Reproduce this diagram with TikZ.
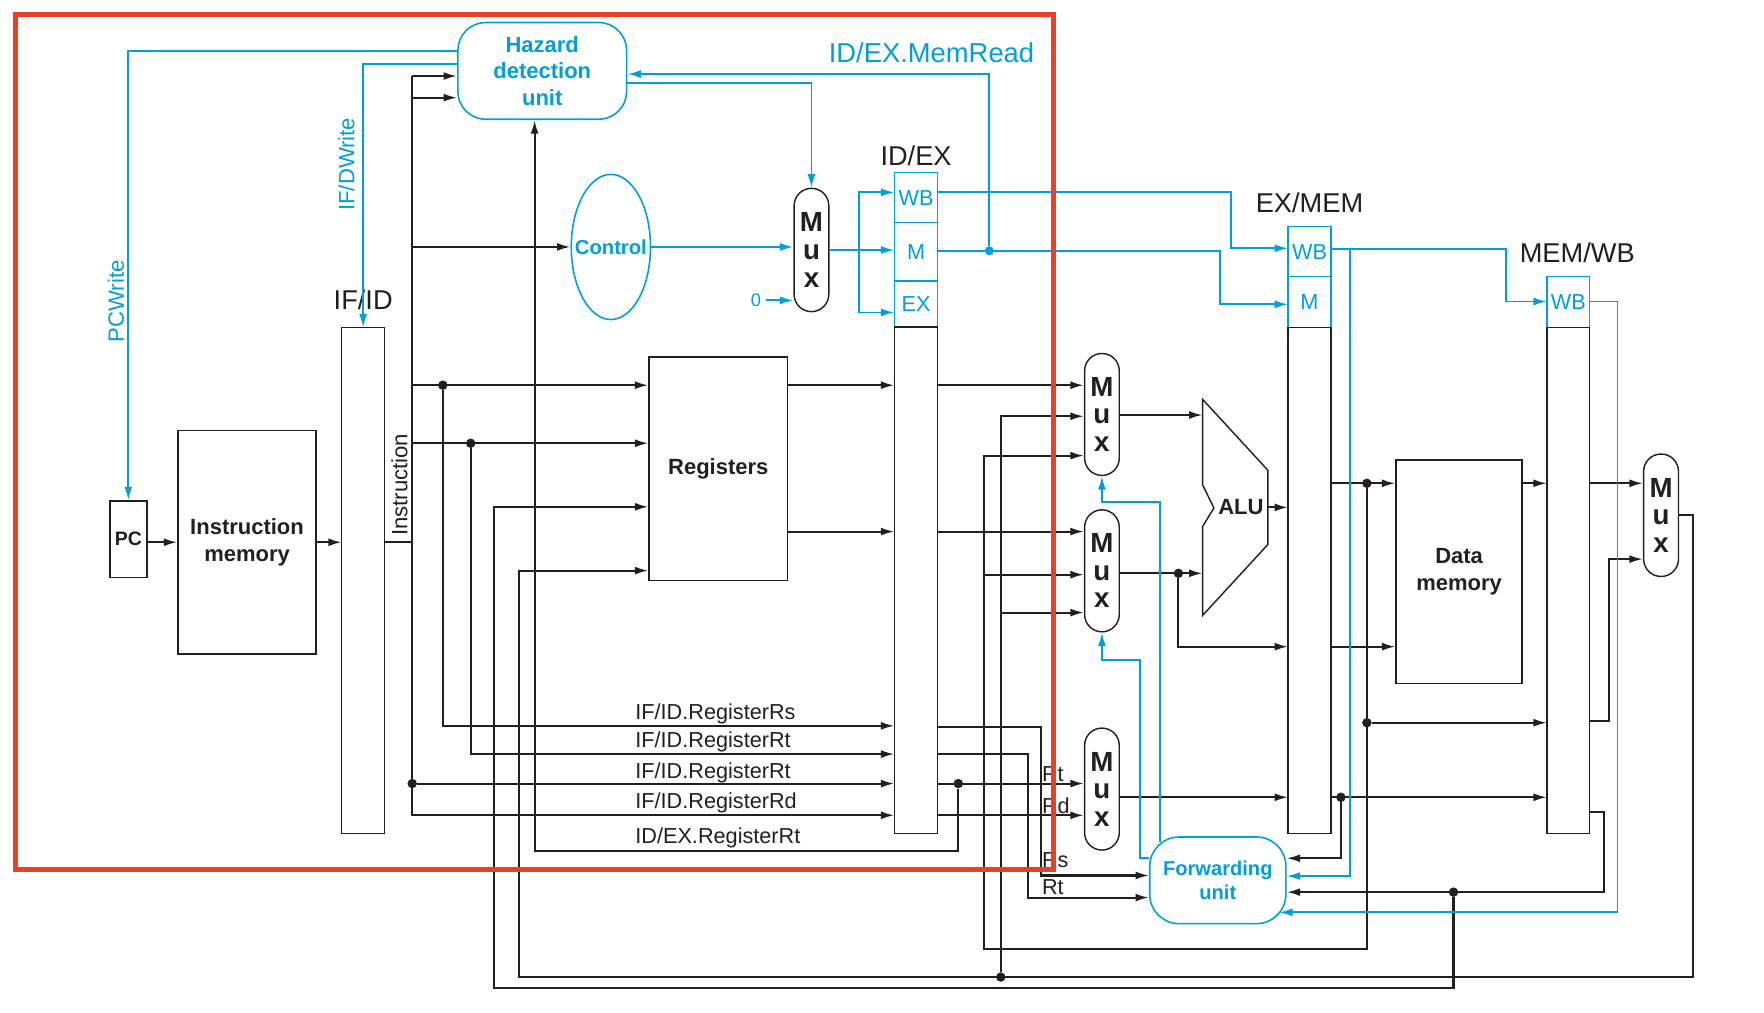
\documentclass[tikz,border=0pt]{standalone}
\usepackage{fontspec}
\setmainfont{Liberation Sans}
\usepackage{tikz}
\usetikzlibrary{shapes.geometric,arrows.meta}
\usetikzlibrary{positioning}

\definecolor{ctlblue}{RGB}{0,158,219}
\definecolor{wireblk}{RGB}{35,31,32}
\definecolor{hlred}{RGB}{233,64,38}

\newcommand{\lblfont}{\fontsize{13.7}{16}\selectfont}
\newcommand{\stgfont}{\fontsize{17.2}{20}\selectfont}
\newcommand{\boxfont}{\bfseries\fontsize{13.9}{16.7}\selectfont}
\newcommand{\muxfont}{\bfseries\fontsize{17.5}{17.4}\selectfont}

\tikzset{
	block/.style={rectangle, draw=wireblk, line width=0.9pt, text=wireblk, font=\boxfont, align=center, inner sep=0pt},
	pipereg/.style={rectangle, draw=wireblk, line width=0.9pt, outer sep=0pt, minimum height=11.25cm, inner sep=0pt},
	ctrlreg/.style={rectangle, draw=ctlblue, line width=0.9pt, outer sep=0pt, text=ctlblue, font=\lblfont, inner sep=0pt},
	muxbox/.style={rectangle, draw=wireblk, line width=0.9pt, rounded corners=0.385cm, minimum width=0.77cm, minimum height=2.71cm, text=wireblk, font=\muxfont, align=center, inner sep=0pt},
	unitbox/.style={rectangle, draw=ctlblue, line width=1pt, text=ctlblue, font=\boxfont, align=center, inner sep=0pt},
	wire/.style={draw=wireblk, line width=1.3pt},
	arr/.style={wire, -{Latex[length=8.5pt,width=5pt]}},
	cwire/.style={draw=ctlblue, line width=1.15pt},
	carr/.style={cwire, -{Latex[length=8.5pt,width=5pt]}},
	jdot/.style={circle, fill=wireblk, inner sep=0pt, minimum size=0.21cm},
	cdot/.style={circle, fill=ctlblue, inner sep=0pt, minimum size=0.2cm},
	lbl/.style={text=wireblk, font=\lblfont, inner sep=0pt},
	clbl/.style={text=ctlblue, font=\fontsize{14}{16}\selectfont, inner sep=0pt},
	stage/.style={text=wireblk, font=\stgfont, inner sep=0pt},
}

\begin{document}
\begin{tikzpicture}[x=0.025cm, y=-0.025cm]
	\useasboundingbox (0,0) rectangle (1568,899.6);

	\node[block, minimum width=0.825cm, minimum height=1.7cm, font=\bfseries\fontsize{12.3}{14}\selectfont] (pc) at (114.1,479.3) {PC};
	\node[block, minimum width=3.07cm, minimum height=4.97cm] (imem) at (219.6,482) {Instruction\\memory};
	\node[pipereg, minimum width=0.9525cm, minimum height=11.2375cm] (ifid) at (322.85,516) {};
	\node[stage, above=0.38cm of ifid] (ifidlbl) {IF/ID};

	\node[unitbox, minimum width=3.75cm, minimum height=2.15cm, rounded corners=0.62cm] (hazard) at (482,63) {Hazard\\detection\\unit};
	\node[ellipse, draw=ctlblue, line width=1pt, minimum width=1.76cm, minimum height=3.225cm, inner sep=0pt] (control) at (543,219.5) {};
	\node[text=ctlblue, font=\bfseries\fontsize{12.8}{15}\selectfont, inner sep=0pt] (controllbl) at (control.center) {Control};
	\node[block, minimum width=3.075cm, minimum height=4.9625cm] (regs) at (638.5,416.75) {Registers};
	\node[muxbox, minimum height=2.74cm] (idmux) at (721.3,222.2) {M\\u\\x};
	\node[text=ctlblue, font=\fontsize{11.5}{13}\selectfont, inner sep=3pt] (zero) at (672,267) {0};

	\node[ctrlreg, minimum width=0.9625cm, minimum height=1.1125cm] (idexwb) at (814.25,175.75) {WB};
	\node[ctrlreg, minimum width=0.9625cm, minimum height=1.295cm, below=0pt of idexwb] (idexm) {M};
	\node[ctrlreg, minimum width=0.9625cm, minimum height=1.025cm, below=0pt of idexm] (idexex) {EX};
	\node[pipereg, minimum width=0.9625cm, below=0pt of idexex] (idex) {};
	\node[stage, above=0.15cm of idexwb] (idexlbl) {ID/EX};

	\node[muxbox] (fmuxA) at (979.5,368.4) {M\\u\\x};
	\node[muxbox] (fmuxB) at (979.5,507.4) {M\\u\\x};
	\node[muxbox] (dstmux) at (979.5,701.4) {M\\u\\x};
	\draw[wireblk, line width=0.9pt] (1069,355) -- (1127,418) -- (1127,484) -- (1069,547) -- (1069,468) -- (1079,451.5) -- (1069,431) -- cycle;
	\node[text=wireblk, font=\boxfont, inner sep=0pt] (alu) at (1103,451) {ALU};
	\coordinate (aluA) at (1069,368.9);
	\coordinate (aluB) at (1069,509.6);
	\coordinate (aluOut) at (1127,451);
	\node[unitbox, minimum width=3.025cm, minimum height=1.925cm, rounded corners=0.65cm, font=\bfseries\fontsize{12.7}{14.7}\selectfont] (fwd) at (1082.5,782.5) {Forwarding\\unit};

	\node[ctrlreg, minimum width=0.95cm, minimum height=1.1125cm] (exmemwb) at (1164,223.75) {WB};
	\node[ctrlreg, minimum width=0.95cm, minimum height=1.125cm, below=0pt of exmemwb] (exmemm) {M};
	\node[pipereg, minimum width=0.95cm, below=0pt of exmemm] (exmem) {};
	\node[stage, above=0.3cm of exmemwb] (exmemlbl) {EX/MEM};

	\node[block, minimum width=2.8cm, minimum height=4.96cm] (dmem) at (1297,508.2) {Data\\[0.7pt]memory};

	\node[ctrlreg, minimum width=0.95cm, minimum height=1.125cm] (memwbwb) at (1394,268.5) {WB};
	\node[pipereg, minimum width=0.95cm, below=0pt of memwbwb] (memwb) {};
	\node[stage, above=0.31cm of memwbwb, xshift=0.2cm] (memwblbl) {MEM/WB};
	\node[muxbox, minimum width=0.775cm, minimum height=2.72cm] (wbmux) at (1476.5,458) {M\\u\\x};

	\coordinate (busTop) at (366.4,67.6);
	\coordinate (busBot) at (366.4,724.7);
	\coordinate (tapHz) at (366.4,86.8);
	\draw[arr] (pc.east |- imem.west) -- (imem.west);
	\draw[arr] (imem.east) -- (imem.east -| ifid.west);
	\draw[wire] (ifid.east |- imem.east) -- (busTop |- imem.east);
	\node[lbl, rotate=90, font=\fontsize{14}{16}\selectfont] (instrlbl) at (355,431) {Instruction};
	\draw[arr] (busTop) -- (busTop -| hazard.west);
	\draw[arr] (tapHz) -- (tapHz -| hazard.west);
	\draw[arr] (busTop) -- (busBot) -- (busBot -| idex.west);
	\draw[arr] (busTop |- control.west) -- (control.west);

	\node[jdot] (dRs) at (393.6,342.4) {};
	\node[jdot] (dRt) at (418.4,394) {};
	\node[jdot] (dRt2) at (366.4,696.5) {};
	\draw[arr] (busTop |- dRs) -- (dRs -| regs.west);
	\draw[arr] (busTop |- dRt) -- (dRt -| regs.west);
	\draw[arr] (dRs) |- (idex.west |- 0,645.2);
	\draw[arr] (dRt) |- (idex.west |- 0,670.3);
	\draw[arr] (dRt2) -- (dRt2 -| idex.west);
	\node[lbl, anchor=base west] (lRs) at (564.5,639.2) {IF/ID.RegisterRs};
	\node[lbl, anchor=base west] (lRt) at (564.5,664.7) {IF/ID.RegisterRt};
	\node[lbl, anchor=base west] (lRt2) at (564.5,692.1) {IF/ID.RegisterRt};
	\node[lbl, anchor=base west] (lRd) at (564.5,718.3) {IF/ID.RegisterRd};
	\node[lbl, anchor=base west] (lExRt) at (564.5,749.9) {ID/EX.RegisterRt};

	\coordinate (rd2) at (regs.east |- 0,472.5);
	\draw[arr] (regs.east |- dRs) -- (dRs -| idex.west);
	\draw[arr] (rd2) -- (rd2 -| idex.west);
	\draw[arr] (idex.east |- dRs) -- (dRs -| fmuxA.west);
	\draw[arr] (idex.east |- rd2) -- (rd2 -| fmuxB.west);
	\draw[arr] (idex.east |- 0,646.2) -| (925.3,778.2) -- (fwd.west |- 0,778.2);
	\draw[arr] (idex.east |- 0,670.3) -| (913.4,797.8) -- (fwd.west |- 0,797.8);
	\node[jdot] (dEx) at (851.8,696.5) {};
	\draw[arr] (idex.east |- dEx) -- (dEx -| dstmux.west);
	\draw[arr] (idex.east |- 0,724.7) -- (dstmux.west |- 0,724.7);
	\node[lbl, anchor=west] (lRtM) at (926,688) {Rt};
	\node[lbl, anchor=west] (lRdM) at (926,716) {Rd};
	\node[lbl, anchor=west] (lRsF) at (926,765) {Rs};
	\node[lbl, anchor=west] (lRtF) at (926,788.5) {Rt};
	\coordinate (hzIn) at ([xshift=-0.17cm]hazard.south);
	\draw[arr] (dEx) -- (dEx |- 0,756.3) -| (hzIn);

	\node[jdot] (dFw) at (1292,793) {};
	\coordinate (wrReg) at (regs.west |- 0,450.5);
	\coordinate (wrData) at (regs.west |- 0,507.2);
	\draw[arr] (dFw) -- (1292,878) -| (438.8,450.5) -- (wrReg);
	\draw[arr] (wbmux.east) -| (1505,868.5) -| (461.6,507.2) -- (wrData);
	\node[jdot] (dWB) at (889.6,868.5) {};
	\draw[arr] (dWB) |- (fmuxA.west |- 0,370);
	\draw[arr] (dWB |- 0,544.5) -- (fmuxB.west |- 0,544.5);

	\node[jdot] (dAlu) at (1215,429.6) {};
	\node[jdot] (dAlu2) at (1215,642.4) {};
	\coordinate (tapB) at (874.3,510.8);
	\draw[arr] (exmem.east |- dAlu) -- (dAlu -| dmem.west);
	\draw[arr] (dAlu) -- (1215,843.6) -| (874.3,405) -- (fmuxA.west |- 0,405);
	\draw[arr] (tapB) -- (tapB -| fmuxB.west);
	\draw[arr] (dAlu2) -- (dAlu2 -| memwb.west);

	\node[jdot] (dB) at (1047.5,509.6) {};
	\draw[arr] (fmuxA.east |- aluA) -- (aluA);
	\draw[arr] (fmuxB.east |- dB) -- (aluB);
	\draw[arr] (dB) |- (exmem.west |- 0,574.8);
	\draw[arr] (aluOut) -- (aluOut -| exmem.west);
	\draw[arr] (exmem.east |- 0,574.8) -- (dmem.west |- 0,574.8);

	\node[jdot] (dDst) at (1191.9,708.7) {};
	\draw[arr] (dstmux.east |- dDst) -- (dDst -| exmem.west);
	\draw[arr] (exmem.east |- dDst) -- (dDst -| memwb.west);
	\draw[arr] (dDst) |- (fwd.east |- 0,762.9);
	\draw[arr] (memwb.east |- 0,721.5) -| (1425.8,793) -- (fwd.east |- 0,793);
	\draw[arr] (memwb.east |- 0,641) -| (1430,497) -- (wbmux.west |- 0,497);
	\draw[arr] (dmem.east |- dAlu) -- (dAlu -| memwb.west);
	\draw[arr] (memwb.east |- dAlu) -- (dAlu -| wbmux.west);

	\draw[carr] (hazard.west |- 0,45) -| (pc.north);
	\draw[carr] (hazard.west |- 0,56.9) -| (ifid.north);
	\node[clbl, rotate=90] (pcwlbl) at (103,268) {PCWrite};
	\node[clbl, rotate=90] (ifdwlbl) at (308,146) {IF/DWrite};
	\node[cdot] (dMR) at (879.4,222.9) {};
	\draw[carr] (dMR) |- (hazard.east |- 0,65.8);
	\node[clbl, font=\fontsize{17.3}{20}\selectfont] (memrdlbl) at (828,46.5) {ID/EX.MemRead};
	\draw[carr] (hazard.east |- 0,73.5) -| (idmux.north);
	\draw[carr] (control.east) -- (control.east -| idmux.west);
	\draw[carr] (zero) -- (zero -| idmux.west);

	\coordinate (ctlSplit) at (763.7,222.2);
	\draw[cwire] (idmux.east) -- (ctlSplit);
	\draw[carr] (ctlSplit) -- (ctlSplit -| idexm.west);
	\draw[carr] (ctlSplit) |- (idexwb.west |- 0,171);
	\draw[carr] (ctlSplit) |- (idexex.west |- 0,277.7);
	\draw[carr] (idexwb.east |- 0,170.4) -| (1094.5,220.7) -- (exmemwb.west |- 0,220.7);
	\draw[carr] (idexm.east |- dMR) -| (1084.3,270.5) -- (exmemm.west |- 0,270.5);
	\draw[carr] (exmemwb.east |- 0,221) -| (1339,268) -- (memwbwb.west |- 0,268);
	\coordinate (tapWB) at (1200,221);
	\coordinate (fwdIn4) at (1137,811);
	\draw[carr] (tapWB) -- (tapWB |- 0,778.7) -- (fwd.east |- 0,778.7);
	\draw[carr] (memwbwb.east |- 0,268) -| (1437.8,811) -- (fwdIn4);
	\draw[carr] ([xshift=0.25cm,yshift=-0.125cm]fwd.north west) |- (fmuxA.south |- 0,446) -- (fmuxA.south);
	\draw[carr] (fwd.west |- 0,762.9) -| (1013.5,586.7) -| (fmuxB.south);

	\draw[hlred, line width=3.2pt] (13.6,13.3) rectangle (936.2,773);
\end{tikzpicture}
\end{document}
